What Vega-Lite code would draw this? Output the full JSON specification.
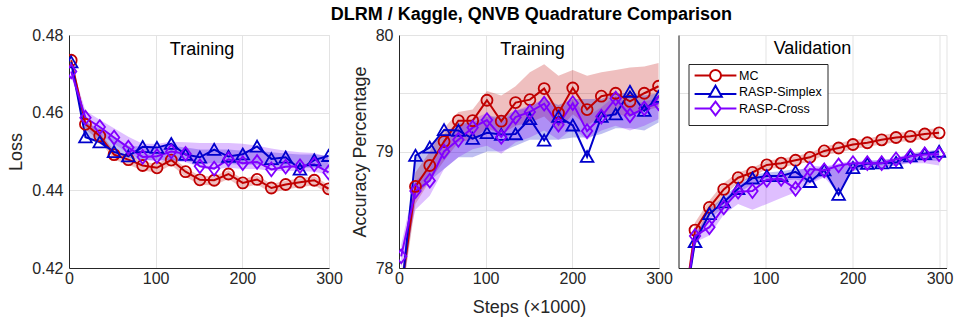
{
  "$schema": "https://vega.github.io/schema/vega-lite/v6.json",
  "background": "white",
  "padding": {"left": 7, "top": 5, "right": 0, "bottom": 0},
  "title": {"text": "DLRM / Kaggle, QNVB Quadrature Comparison", "fontSize": 18, "fontWeight": "bold", "anchor": "middle", "dx": 51, "offset": 3},
  "config": {
    "font": "Liberation Sans",
    "view": {"stroke": "#e3e3e3", "strokeWidth": 1},
    "axis": {
      "labelFont": "Liberation Sans", "labelFontSize": 16, "labelColor": "#262626",
      "titleFont": "Liberation Sans", "titleFontSize": 18, "titleFontWeight": "normal", "titleColor": "#262626",
      "domainColor": "#262626", "domainWidth": 1, "gridColor": "#e3e3e3", "gridWidth": 1,
      "ticks": false, "labelFlush": false, "labelPadding": 6
    },
    "axisX": {"labelPadding": 2, "titlePadding": 12},
    "axisY": {"titlePadding": 6},
    "title": {"font": "Liberation Sans", "color": "#000000"}
  },
  "data": {"values": [
    {"panel":"loss","series":"MC","step":2.5,"value":0.4735,"lo":0.4722,"hi":0.4745},
    {"panel":"loss","series":"MC","step":19,"value":0.4570,"lo":0.4557,"hi":0.4580},
    {"panel":"loss","series":"MC","step":35.5,"value":0.4540,"lo":0.4527,"hi":0.4550},
    {"panel":"loss","series":"MC","step":52,"value":0.4492,"lo":0.4479,"hi":0.4502},
    {"panel":"loss","series":"MC","step":68.5,"value":0.4479,"lo":0.4466,"hi":0.4489},
    {"panel":"loss","series":"MC","step":85,"value":0.4464,"lo":0.4451,"hi":0.4474},
    {"panel":"loss","series":"MC","step":101.5,"value":0.4458,"lo":0.4445,"hi":0.4468},
    {"panel":"loss","series":"MC","step":118,"value":0.4478,"lo":0.4465,"hi":0.4488},
    {"panel":"loss","series":"MC","step":134.5,"value":0.4448,"lo":0.4435,"hi":0.4458},
    {"panel":"loss","series":"MC","step":151,"value":0.4427,"lo":0.4414,"hi":0.4437},
    {"panel":"loss","series":"MC","step":167.5,"value":0.4426,"lo":0.4413,"hi":0.4436},
    {"panel":"loss","series":"MC","step":184,"value":0.4442,"lo":0.4429,"hi":0.4452},
    {"panel":"loss","series":"MC","step":200.5,"value":0.4419,"lo":0.4406,"hi":0.4429},
    {"panel":"loss","series":"MC","step":217,"value":0.4428,"lo":0.4415,"hi":0.4438},
    {"panel":"loss","series":"MC","step":233.5,"value":0.4406,"lo":0.4393,"hi":0.4416},
    {"panel":"loss","series":"MC","step":250,"value":0.4415,"lo":0.4402,"hi":0.4425},
    {"panel":"loss","series":"MC","step":266.5,"value":0.4421,"lo":0.4408,"hi":0.4431},
    {"panel":"loss","series":"MC","step":283,"value":0.4426,"lo":0.4413,"hi":0.4436},
    {"panel":"loss","series":"MC","step":299.5,"value":0.4404,"lo":0.4391,"hi":0.4414},
    {"panel":"loss","series":"RASP-Simplex","step":2.5,"value":0.4730,"lo":0.4720,"hi":0.4740},
    {"panel":"loss","series":"RASP-Simplex","step":19,"value":0.4537,"lo":0.4535,"hi":0.4575},
    {"panel":"loss","series":"RASP-Simplex","step":35.5,"value":0.4524,"lo":0.4520,"hi":0.4560},
    {"panel":"loss","series":"RASP-Simplex","step":52,"value":0.4499,"lo":0.4495,"hi":0.4535},
    {"panel":"loss","series":"RASP-Simplex","step":68.5,"value":0.4488,"lo":0.4483,"hi":0.4515},
    {"panel":"loss","series":"RASP-Simplex","step":85,"value":0.4512,"lo":0.4478,"hi":0.4512},
    {"panel":"loss","series":"RASP-Simplex","step":101.5,"value":0.4510,"lo":0.4478,"hi":0.4512},
    {"panel":"loss","series":"RASP-Simplex","step":118,"value":0.4520,"lo":0.4478,"hi":0.4515},
    {"panel":"loss","series":"RASP-Simplex","step":134.5,"value":0.4492,"lo":0.4475,"hi":0.4510},
    {"panel":"loss","series":"RASP-Simplex","step":151,"value":0.4485,"lo":0.4470,"hi":0.4505},
    {"panel":"loss","series":"RASP-Simplex","step":167.5,"value":0.4505,"lo":0.4470,"hi":0.4505},
    {"panel":"loss","series":"RASP-Simplex","step":184,"value":0.4487,"lo":0.4468,"hi":0.4505},
    {"panel":"loss","series":"RASP-Simplex","step":200.5,"value":0.4493,"lo":0.4466,"hi":0.4502},
    {"panel":"loss","series":"RASP-Simplex","step":217,"value":0.4513,"lo":0.4466,"hi":0.4502},
    {"panel":"loss","series":"RASP-Simplex","step":233.5,"value":0.4481,"lo":0.4462,"hi":0.4498},
    {"panel":"loss","series":"RASP-Simplex","step":250,"value":0.4485,"lo":0.4460,"hi":0.4495},
    {"panel":"loss","series":"RASP-Simplex","step":266.5,"value":0.4454,"lo":0.4458,"hi":0.4492},
    {"panel":"loss","series":"RASP-Simplex","step":283,"value":0.4478,"lo":0.4458,"hi":0.4492},
    {"panel":"loss","series":"RASP-Simplex","step":299.5,"value":0.4489,"lo":0.4455,"hi":0.4490},
    {"panel":"loss","series":"RASP-Cross","step":2.5,"value":0.4706,"lo":0.4695,"hi":0.4725},
    {"panel":"loss","series":"RASP-Cross","step":19,"value":0.4587,"lo":0.4570,"hi":0.4605},
    {"panel":"loss","series":"RASP-Cross","step":35.5,"value":0.4563,"lo":0.4545,"hi":0.4582},
    {"panel":"loss","series":"RASP-Cross","step":52,"value":0.4536,"lo":0.4520,"hi":0.4560},
    {"panel":"loss","series":"RASP-Cross","step":68.5,"value":0.4510,"lo":0.4495,"hi":0.4538},
    {"panel":"loss","series":"RASP-Cross","step":85,"value":0.4486,"lo":0.4478,"hi":0.4520},
    {"panel":"loss","series":"RASP-Cross","step":101.5,"value":0.4488,"lo":0.4475,"hi":0.4520},
    {"panel":"loss","series":"RASP-Cross","step":118,"value":0.4500,"lo":0.4475,"hi":0.4525},
    {"panel":"loss","series":"RASP-Cross","step":134.5,"value":0.4494,"lo":0.4472,"hi":0.4524},
    {"panel":"loss","series":"RASP-Cross","step":151,"value":0.4462,"lo":0.4460,"hi":0.4522},
    {"panel":"loss","series":"RASP-Cross","step":167.5,"value":0.4456,"lo":0.4455,"hi":0.4522},
    {"panel":"loss","series":"RASP-Cross","step":184,"value":0.4480,"lo":0.4458,"hi":0.4522},
    {"panel":"loss","series":"RASP-Cross","step":200.5,"value":0.4470,"lo":0.4455,"hi":0.4520},
    {"panel":"loss","series":"RASP-Cross","step":217,"value":0.4473,"lo":0.4455,"hi":0.4515},
    {"panel":"loss","series":"RASP-Cross","step":233.5,"value":0.4454,"lo":0.4450,"hi":0.4508},
    {"panel":"loss","series":"RASP-Cross","step":250,"value":0.4461,"lo":0.4450,"hi":0.4502},
    {"panel":"loss","series":"RASP-Cross","step":266.5,"value":0.4462,"lo":0.4450,"hi":0.4498},
    {"panel":"loss","series":"RASP-Cross","step":283,"value":0.4467,"lo":0.4448,"hi":0.4496},
    {"panel":"loss","series":"RASP-Cross","step":299.5,"value":0.4446,"lo":0.4440,"hi":0.4485},

    {"panel":"train","series":"MC","step":2.5,"value":77.80,"lo":77.70,"hi":77.90},
    {"panel":"train","series":"MC","step":19,"value":78.70,"lo":78.55,"hi":78.82},
    {"panel":"train","series":"MC","step":35.5,"value":78.88,"lo":78.75,"hi":79.00},
    {"panel":"train","series":"MC","step":52,"value":79.085,"lo":78.92,"hi":79.20},
    {"panel":"train","series":"MC","step":68.5,"value":79.265,"lo":79.08,"hi":79.34},
    {"panel":"train","series":"MC","step":85,"value":79.265,"lo":79.10,"hi":79.36},
    {"panel":"train","series":"MC","step":101.5,"value":79.44,"lo":79.20,"hi":79.52},
    {"panel":"train","series":"MC","step":118,"value":79.26,"lo":79.15,"hi":79.48},
    {"panel":"train","series":"MC","step":134.5,"value":79.42,"lo":79.22,"hi":79.56},
    {"panel":"train","series":"MC","step":151,"value":79.445,"lo":79.25,"hi":79.68},
    {"panel":"train","series":"MC","step":167.5,"value":79.54,"lo":79.30,"hi":79.75},
    {"panel":"train","series":"MC","step":184,"value":79.33,"lo":79.18,"hi":79.65},
    {"panel":"train","series":"MC","step":200.5,"value":79.545,"lo":79.32,"hi":79.70},
    {"panel":"train","series":"MC","step":217,"value":79.36,"lo":79.22,"hi":79.65},
    {"panel":"train","series":"MC","step":233.5,"value":79.475,"lo":79.30,"hi":79.68},
    {"panel":"train","series":"MC","step":250,"value":79.50,"lo":79.32,"hi":79.70},
    {"panel":"train","series":"MC","step":266.5,"value":79.43,"lo":79.30,"hi":79.72},
    {"panel":"train","series":"MC","step":283,"value":79.50,"lo":79.35,"hi":79.73},
    {"panel":"train","series":"MC","step":299.5,"value":79.56,"lo":79.38,"hi":79.76},
    {"panel":"train","series":"RASP-Simplex","step":2.5,"value":77.75,"lo":77.70,"hi":77.90},
    {"panel":"train","series":"RASP-Simplex","step":19,"value":78.965,"lo":78.60,"hi":78.95},
    {"panel":"train","series":"RASP-Simplex","step":35.5,"value":79.035,"lo":78.75,"hi":79.05},
    {"panel":"train","series":"RASP-Simplex","step":52,"value":79.185,"lo":78.85,"hi":79.15},
    {"panel":"train","series":"RASP-Simplex","step":68.5,"value":79.18,"lo":78.95,"hi":79.25},
    {"panel":"train","series":"RASP-Simplex","step":85,"value":79.11,"lo":78.95,"hi":79.25},
    {"panel":"train","series":"RASP-Simplex","step":101.5,"value":79.16,"lo":79.00,"hi":79.30},
    {"panel":"train","series":"RASP-Simplex","step":118,"value":79.145,"lo":79.00,"hi":79.30},
    {"panel":"train","series":"RASP-Simplex","step":134.5,"value":79.15,"lo":79.05,"hi":79.35},
    {"panel":"train","series":"RASP-Simplex","step":151,"value":79.28,"lo":79.10,"hi":79.38},
    {"panel":"train","series":"RASP-Simplex","step":167.5,"value":79.095,"lo":79.10,"hi":79.45},
    {"panel":"train","series":"RASP-Simplex","step":184,"value":79.30,"lo":79.10,"hi":79.40},
    {"panel":"train","series":"RASP-Simplex","step":200.5,"value":79.225,"lo":79.12,"hi":79.45},
    {"panel":"train","series":"RASP-Simplex","step":217,"value":78.955,"lo":79.12,"hi":79.45},
    {"panel":"train","series":"RASP-Simplex","step":233.5,"value":79.30,"lo":79.15,"hi":79.45},
    {"panel":"train","series":"RASP-Simplex","step":250,"value":79.32,"lo":79.20,"hi":79.50},
    {"panel":"train","series":"RASP-Simplex","step":266.5,"value":79.515,"lo":79.20,"hi":79.50},
    {"panel":"train","series":"RASP-Simplex","step":283,"value":79.35,"lo":79.18,"hi":79.48},
    {"panel":"train","series":"RASP-Simplex","step":299.5,"value":79.47,"lo":79.25,"hi":79.50},
    {"panel":"train","series":"RASP-Cross","step":2.5,"value":78.10,"lo":78.00,"hi":78.20},
    {"panel":"train","series":"RASP-Cross","step":19,"value":78.66,"lo":78.50,"hi":78.75},
    {"panel":"train","series":"RASP-Cross","step":35.5,"value":78.75,"lo":78.62,"hi":78.85},
    {"panel":"train","series":"RASP-Cross","step":52,"value":79.00,"lo":78.85,"hi":79.10},
    {"panel":"train","series":"RASP-Cross","step":68.5,"value":79.10,"lo":78.95,"hi":79.20},
    {"panel":"train","series":"RASP-Cross","step":85,"value":79.205,"lo":79.02,"hi":79.28},
    {"panel":"train","series":"RASP-Cross","step":101.5,"value":79.27,"lo":79.05,"hi":79.33},
    {"panel":"train","series":"RASP-Cross","step":118,"value":79.125,"lo":78.98,"hi":79.25},
    {"panel":"train","series":"RASP-Cross","step":134.5,"value":79.295,"lo":79.08,"hi":79.35},
    {"panel":"train","series":"RASP-Cross","step":151,"value":79.34,"lo":79.12,"hi":79.40},
    {"panel":"train","series":"RASP-Cross","step":167.5,"value":79.41,"lo":79.18,"hi":79.45},
    {"panel":"train","series":"RASP-Cross","step":184,"value":79.23,"lo":79.10,"hi":79.35},
    {"panel":"train","series":"RASP-Cross","step":200.5,"value":79.415,"lo":79.20,"hi":79.45},
    {"panel":"train","series":"RASP-Cross","step":217,"value":79.175,"lo":79.10,"hi":79.30},
    {"panel":"train","series":"RASP-Cross","step":233.5,"value":79.30,"lo":79.18,"hi":79.38},
    {"panel":"train","series":"RASP-Cross","step":250,"value":79.455,"lo":79.22,"hi":79.48},
    {"panel":"train","series":"RASP-Cross","step":266.5,"value":79.31,"lo":79.18,"hi":79.40},
    {"panel":"train","series":"RASP-Cross","step":283,"value":79.37,"lo":79.22,"hi":79.43},
    {"panel":"train","series":"RASP-Cross","step":299.5,"value":79.415,"lo":79.28,"hi":79.46},

    {"panel":"valid","series":"MC","step":2.5,"value":77.45,"lo":77.40,"hi":77.50},
    {"panel":"valid","series":"MC","step":19,"value":78.325,"lo":78.26,"hi":78.39},
    {"panel":"valid","series":"MC","step":35.5,"value":78.52,"lo":78.46,"hi":78.58},
    {"panel":"valid","series":"MC","step":52,"value":78.675,"lo":78.62,"hi":78.73},
    {"panel":"valid","series":"MC","step":68.5,"value":78.775,"lo":78.73,"hi":78.82},
    {"panel":"valid","series":"MC","step":85,"value":78.82,"lo":78.78,"hi":78.86},
    {"panel":"valid","series":"MC","step":101.5,"value":78.885,"lo":78.85,"hi":78.92},
    {"panel":"valid","series":"MC","step":118,"value":78.90,"lo":78.86,"hi":78.94},
    {"panel":"valid","series":"MC","step":134.5,"value":78.925,"lo":78.89,"hi":78.96},
    {"panel":"valid","series":"MC","step":151,"value":78.95,"lo":78.91,"hi":78.99},
    {"panel":"valid","series":"MC","step":167.5,"value":79.005,"lo":78.97,"hi":79.04},
    {"panel":"valid","series":"MC","step":184,"value":79.03,"lo":78.99,"hi":79.07},
    {"panel":"valid","series":"MC","step":200.5,"value":79.06,"lo":79.02,"hi":79.10},
    {"panel":"valid","series":"MC","step":217,"value":79.075,"lo":79.04,"hi":79.11},
    {"panel":"valid","series":"MC","step":233.5,"value":79.10,"lo":79.06,"hi":79.14},
    {"panel":"valid","series":"MC","step":250,"value":79.12,"lo":79.08,"hi":79.16},
    {"panel":"valid","series":"MC","step":266.5,"value":79.13,"lo":79.09,"hi":79.17},
    {"panel":"valid","series":"MC","step":283,"value":79.15,"lo":79.11,"hi":79.19},
    {"panel":"valid","series":"MC","step":299.5,"value":79.16,"lo":79.12,"hi":79.20},
    {"panel":"valid","series":"RASP-Simplex","step":2.5,"value":77.45,"lo":77.40,"hi":77.50},
    {"panel":"valid","series":"RASP-Simplex","step":19,"value":78.225,"lo":78.19,"hi":78.27},
    {"panel":"valid","series":"RASP-Simplex","step":35.5,"value":78.465,"lo":78.42,"hi":78.51},
    {"panel":"valid","series":"RASP-Simplex","step":52,"value":78.565,"lo":78.52,"hi":78.61},
    {"panel":"valid","series":"RASP-Simplex","step":68.5,"value":78.68,"lo":78.64,"hi":78.72},
    {"panel":"valid","series":"RASP-Simplex","step":85,"value":78.77,"lo":78.72,"hi":78.80},
    {"panel":"valid","series":"RASP-Simplex","step":101.5,"value":78.79,"lo":78.74,"hi":78.82},
    {"panel":"valid","series":"RASP-Simplex","step":118,"value":78.79,"lo":78.75,"hi":78.83},
    {"panel":"valid","series":"RASP-Simplex","step":134.5,"value":78.825,"lo":78.76,"hi":78.85},
    {"panel":"valid","series":"RASP-Simplex","step":151,"value":78.74,"lo":78.73,"hi":78.85},
    {"panel":"valid","series":"RASP-Simplex","step":167.5,"value":78.84,"lo":78.80,"hi":78.87},
    {"panel":"valid","series":"RASP-Simplex","step":184,"value":78.63,"lo":78.66,"hi":78.88},
    {"panel":"valid","series":"RASP-Simplex","step":200.5,"value":78.86,"lo":78.83,"hi":78.90},
    {"panel":"valid","series":"RASP-Simplex","step":217,"value":78.895,"lo":78.86,"hi":78.92},
    {"panel":"valid","series":"RASP-Simplex","step":233.5,"value":78.90,"lo":78.87,"hi":78.93},
    {"panel":"valid","series":"RASP-Simplex","step":250,"value":78.905,"lo":78.88,"hi":78.94},
    {"panel":"valid","series":"RASP-Simplex","step":266.5,"value":78.96,"lo":78.91,"hi":78.98},
    {"panel":"valid","series":"RASP-Simplex","step":283,"value":78.98,"lo":78.92,"hi":79.00},
    {"panel":"valid","series":"RASP-Simplex","step":299.5,"value":79.00,"lo":78.92,"hi":79.02},
    {"panel":"valid","series":"RASP-Cross","step":2.5,"value":77.45,"lo":77.40,"hi":77.50},
    {"panel":"valid","series":"RASP-Cross","step":19,"value":78.275,"lo":78.22,"hi":78.32},
    {"panel":"valid","series":"RASP-Cross","step":35.5,"value":78.35,"lo":78.28,"hi":78.42},
    {"panel":"valid","series":"RASP-Cross","step":52,"value":78.52,"lo":78.46,"hi":78.58},
    {"panel":"valid","series":"RASP-Cross","step":68.5,"value":78.655,"lo":78.55,"hi":78.72},
    {"panel":"valid","series":"RASP-Cross","step":85,"value":78.66,"lo":78.50,"hi":78.76},
    {"panel":"valid","series":"RASP-Cross","step":101.5,"value":78.757,"lo":78.55,"hi":78.80},
    {"panel":"valid","series":"RASP-Cross","step":118,"value":78.765,"lo":78.60,"hi":78.80},
    {"panel":"valid","series":"RASP-Cross","step":134.5,"value":78.68,"lo":78.65,"hi":78.82},
    {"panel":"valid","series":"RASP-Cross","step":151,"value":78.85,"lo":78.72,"hi":78.88},
    {"panel":"valid","series":"RASP-Cross","step":167.5,"value":78.838,"lo":78.78,"hi":78.87},
    {"panel":"valid","series":"RASP-Cross","step":184,"value":78.88,"lo":78.64,"hi":78.90},
    {"panel":"valid","series":"RASP-Cross","step":200.5,"value":78.90,"lo":78.84,"hi":78.92},
    {"panel":"valid","series":"RASP-Cross","step":217,"value":78.90,"lo":78.85,"hi":78.92},
    {"panel":"valid","series":"RASP-Cross","step":233.5,"value":78.90,"lo":78.86,"hi":78.92},
    {"panel":"valid","series":"RASP-Cross","step":250,"value":78.933,"lo":78.88,"hi":78.95},
    {"panel":"valid","series":"RASP-Cross","step":266.5,"value":78.96,"lo":78.90,"hi":78.98},
    {"panel":"valid","series":"RASP-Cross","step":283,"value":78.975,"lo":78.90,"hi":79.00},
    {"panel":"valid","series":"RASP-Cross","step":299.5,"value":78.977,"lo":78.88,"hi":79.00}
  ]},
  "bounds": "flush",
  "spacing": 70,
  "resolve": {
    "scale": {"x": "independent", "y": "independent", "color": "independent", "shape": "independent"},
    "legend": {"color": "independent", "shape": "independent"}
  },
  "hconcat": [
    {
      "width": 260, "height": 233,
      "title": {"text": "Training", "frame": "group", "offset": -32, "fontSize": 18, "fontWeight": "normal", "anchor": "middle", "dx": 3},
      "transform": [{"filter": "datum.panel === 'loss'"}],
      "encoding": {
        "x": {"field": "step", "type": "quantitative", "scale": {"domain": [0, 300], "nice": false, "zero": false},
              "axis": {"values": [0, 100, 200, 300], "title": null, "grid": true}},
        "color": {"field": "series", "type": "nominal", "legend": null,
                  "scale": {"domain": ["MC", "RASP-Simplex", "RASP-Cross"], "range": ["#c00000", "#0000cc", "#8000ff"]}}
      },
      "layer": [
        {"mark": {"type": "area", "opacity": 0.25, "clip": true},
         "encoding": {"y": {"field": "lo", "type": "quantitative", "stack": null, "scale": {"domain": [0.42, 0.48], "nice": false, "zero": false},
                            "axis": {"values": [0.42, 0.44, 0.46, 0.48], "title": "Loss", "grid": true, "format": ".2f"}},
                      "y2": {"field": "hi"}}},
        {"mark": {"type": "line", "strokeWidth": 2, "clip": true},
         "encoding": {"y": {"field": "value", "type": "quantitative"}}},
        {"mark": {"type": "point", "filled": false, "strokeWidth": 1.8, "size": 121, "opacity": 1, "clip": true},
         "encoding": {"y": {"field": "value", "type": "quantitative"},
                      "shape": {"field": "series", "type": "nominal", "legend": null,
                                "scale": {"domain": ["MC", "RASP-Simplex", "RASP-Cross"],
                                          "range": ["M-1,0A1,1 0 1,1 1,0A1,1 0 1,1 -1,0Z", "M0,-1.05L1.15,0.95L-1.15,0.95Z", "M0,-1.25L0.95,0L0,1.25L-0.95,0Z"]}}}}
      ]
    },
    {
      "bounds": "flush",
      "spacing": 19.5,
      "resolve": {
        "scale": {"x": "independent", "y": "independent", "color": "independent", "shape": "independent"},
        "legend": {"color": "independent", "shape": "independent"}
      },
      "hconcat": [
        {
          "width": 260, "height": 233,
          "title": {"text": "Training", "frame": "group", "offset": -32, "fontSize": 18, "fontWeight": "normal", "anchor": "middle", "dx": 3.5},
          "transform": [{"filter": "datum.panel === 'train'"}],
          "encoding": {
            "x": {"field": "step", "type": "quantitative", "scale": {"domain": [0, 300], "nice": false, "zero": false},
                  "axis": {"values": [0, 100, 200, 300], "title": "Steps (×1000)", "grid": true}},
            "color": {"field": "series", "type": "nominal", "legend": null,
                      "scale": {"domain": ["MC", "RASP-Simplex", "RASP-Cross"], "range": ["#c00000", "#0000cc", "#8000ff"]}}
          },
          "layer": [
            {"mark": {"type": "area", "opacity": 0.25, "clip": true},
             "encoding": {"y": {"field": "lo", "type": "quantitative", "stack": null, "scale": {"domain": [78, 80], "nice": false, "zero": false},
                                "axis": {"values": [78, 78.5, 79, 79.5, 80], "title": "Accuracy Percentage", "grid": true, "format": ".0f",
                                         "labelExpr": "datum.value % 1 === 0 ? datum.label : ''"}},
                          "y2": {"field": "hi"}}},
            {"mark": {"type": "line", "strokeWidth": 2, "clip": true},
             "encoding": {"y": {"field": "value", "type": "quantitative"}}},
            {"mark": {"type": "point", "filled": false, "strokeWidth": 1.8, "size": 121, "opacity": 1, "clip": true},
             "encoding": {"y": {"field": "value", "type": "quantitative"},
                          "shape": {"field": "series", "type": "nominal", "legend": null,
                                    "scale": {"domain": ["MC", "RASP-Simplex", "RASP-Cross"],
                                              "range": ["M-1,0A1,1 0 1,1 1,0A1,1 0 1,1 -1,0Z", "M0,-1.05L1.15,0.95L-1.15,0.95Z", "M0,-1.25L0.95,0L0,1.25L-0.95,0Z"]}}}}
          ]
        },
        {
          "width": 268, "height": 233,
          "title": {"text": "Validation", "frame": "group", "offset": -23, "fontSize": 18, "fontWeight": "normal", "anchor": "middle"},
          "transform": [{"filter": "datum.panel === 'valid'"}],
          "encoding": {
            "x": {"field": "step", "type": "quantitative", "scale": {"domain": [0, 308], "nice": false, "zero": false},
                  "axis": {"values": [100, 200, 300], "title": null, "grid": true}}
          },
          "layer": [
            {"transform": [{"filter": "datum.series === 'MC'"}],
             "mark": {"type": "area", "color": "#c00000", "opacity": 0.25, "clip": true},
             "encoding": {"y": {"field": "lo", "type": "quantitative", "stack": null, "scale": {"domain": [78, 80], "nice": false, "zero": false},
                                "axis": {"values": [78, 78.5, 79, 79.5, 80], "title": null, "labels": false, "grid": true}},
                          "y2": {"field": "hi"}}},
            {"transform": [{"filter": "datum.series === 'RASP-Simplex'"}],
             "mark": {"type": "area", "color": "#0000cc", "opacity": 0.25, "clip": true},
             "encoding": {"y": {"field": "lo", "type": "quantitative", "stack": null}, "y2": {"field": "hi"}}},
            {"transform": [{"filter": "datum.series === 'RASP-Cross'"}],
             "mark": {"type": "area", "color": "#8000ff", "opacity": 0.25, "clip": true},
             "encoding": {"y": {"field": "lo", "type": "quantitative", "stack": null}, "y2": {"field": "hi"}}},
            {"transform": [{"filter": "datum.series === 'MC'"}],
             "encoding": {"y": {"field": "value", "type": "quantitative"}},
             "layer": [
               {"mark": {"type": "line", "color": "#c00000", "strokeWidth": 2, "clip": true}},
               {"mark": {"type": "point", "color": "#c00000", "filled": false, "strokeWidth": 1.8, "size": 121, "opacity": 1, "clip": true,
                         "shape": "M-1,0A1,1 0 1,1 1,0A1,1 0 1,1 -1,0Z"}}
             ]},
            {"transform": [{"filter": "datum.series === 'RASP-Simplex'"}],
             "encoding": {"y": {"field": "value", "type": "quantitative"}},
             "layer": [
               {"mark": {"type": "line", "color": "#0000cc", "strokeWidth": 2, "clip": true}},
               {"mark": {"type": "point", "color": "#0000cc", "filled": false, "strokeWidth": 1.8, "size": 121, "opacity": 1, "clip": true,
                         "shape": "M0,-1.05L1.15,0.95L-1.15,0.95Z"}}
             ]},
            {"transform": [{"filter": "datum.series === 'RASP-Cross'"}],
             "encoding": {"y": {"field": "value", "type": "quantitative"}},
             "layer": [
               {"mark": {"type": "line", "color": "#8000ff", "strokeWidth": 2, "clip": true}},
               {"mark": {"type": "point", "color": "#8000ff", "filled": false, "strokeWidth": 1.8, "size": 121, "opacity": 1, "clip": true,
                         "shape": "M0,-1.25L0.95,0L0,1.25L-0.95,0Z"}}
             ]},
            {"mark": {"type": "point", "filled": false, "strokeWidth": 2, "size": 121, "opacity": 0, "clip": true},
             "encoding": {"y": {"field": "value", "type": "quantitative"},
                          "color": {"field": "series", "type": "nominal",
                                    "scale": {"domain": ["MC", "RASP-Simplex", "RASP-Cross"], "range": ["#c00000", "#0000cc", "#8000ff"]},
                                    "legend": {"orient": "none", "legendX": 10, "legendY": 29, "title": null, "direction": "vertical",
                                               "strokeColor": "#262626", "fillColor": "white", "padding": 5, "rowPadding": -4,
                                               "labelFont": "Liberation Sans", "labelFontSize": 12.5, "labelColor": "#000000",
                                               "symbolSize": 121, "symbolOffset": 15.5, "labelOffset": 17,
                                               "symbolOpacity": 1, "symbolStrokeWidth": 2, "symbolFillColor": "transparent"}},
                          "shape": {"field": "series", "type": "nominal",
                                    "scale": {"domain": ["MC", "RASP-Simplex", "RASP-Cross"],
                                              "range": ["M-3.8,0L-1,0M1,0L3.8,0M-1,0A1,1 0 1,1 1,0A1,1 0 1,1 -1,0Z", "M-3.8,0.45L-0.9,0.45M0.9,0.45L3.8,0.45M0,-1.05L1.15,0.95L-1.15,0.95Z", "M-3.8,0L-0.95,0M0.95,0L3.8,0M0,-1.25L0.95,0L0,1.25L-0.95,0Z"]},
                                    "legend": {"orient": "none", "legendX": 10, "legendY": 29, "title": null, "direction": "vertical",
                                               "strokeColor": "#262626", "fillColor": "white", "padding": 5, "rowPadding": -4,
                                               "labelFont": "Liberation Sans", "labelFontSize": 12.5, "labelColor": "#000000",
                                               "symbolSize": 121, "symbolOffset": 15.5, "labelOffset": 17,
                                               "symbolOpacity": 1, "symbolStrokeWidth": 2, "symbolFillColor": "transparent"}}}}
          ]
        }
      ]
    }
  ]
}
